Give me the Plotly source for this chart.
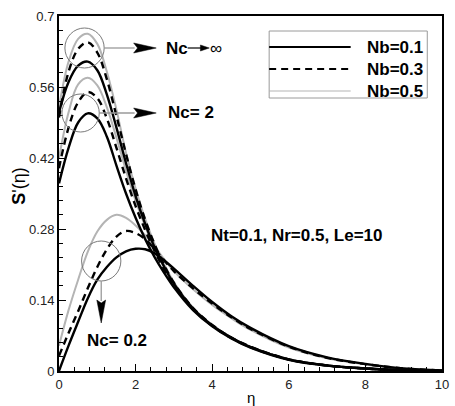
import plotly.graph_objects as go

# similarity coordinate
eta = [0, 0.25, 0.5, 0.75, 1, 1.25, 1.5, 1.75, 2, 2.25, 2.5, 2.75, 3,
       3.5, 4, 4.5, 5, 6, 7, 8, 9, 10]

# S'(eta) for Nc -> infinity
inf_nb01 = [0.51, 0.57, 0.602, 0.61, 0.593, 0.545, 0.48, 0.41, 0.345, 0.29, 0.243, 0.205, 0.172,
            0.123, 0.09, 0.066, 0.047, 0.023, 0.011, 0.005, 0.0015, 0.0]
inf_nb03 = [0.50, 0.59, 0.635, 0.648, 0.628, 0.575, 0.503, 0.428, 0.358, 0.298, 0.249, 0.208, 0.174,
            0.124, 0.091, 0.066, 0.048, 0.023, 0.011, 0.005, 0.0015, 0.0]
inf_nb05 = [0.52, 0.61, 0.655, 0.665, 0.645, 0.59, 0.515, 0.43, 0.36, 0.30, 0.25, 0.21, 0.175,
            0.125, 0.091, 0.066, 0.048, 0.023, 0.011, 0.005, 0.0015, 0.0]

# S'(eta) for Nc = 2
nc2_nb01 = [0.37, 0.44, 0.49, 0.508, 0.498, 0.462, 0.405, 0.35, 0.302, 0.26, 0.224, 0.193, 0.165,
            0.12, 0.088, 0.064, 0.046, 0.022, 0.0105, 0.0048, 0.0014, 0.0]
nc2_nb03 = [0.40, 0.48, 0.53, 0.55, 0.538, 0.498, 0.44, 0.38, 0.325, 0.278, 0.236, 0.2, 0.17,
            0.122, 0.089, 0.065, 0.047, 0.0225, 0.0108, 0.0049, 0.0015, 0.0]
nc2_nb05 = [0.42, 0.51, 0.565, 0.578, 0.563, 0.52, 0.46, 0.395, 0.336, 0.285, 0.24, 0.203, 0.171,
            0.123, 0.09, 0.065, 0.047, 0.0225, 0.011, 0.005, 0.0015, 0.0]

# S'(eta) for Nc = 0.2
nc02_nb01 = [0.0, 0.05, 0.097, 0.143, 0.18, 0.205, 0.224, 0.236, 0.241, 0.24, 0.232, 0.218, 0.202,
             0.168, 0.136, 0.108, 0.085, 0.049, 0.027, 0.014, 0.005, 0.001]
nc02_nb03 = [0.03, 0.075, 0.118, 0.163, 0.205, 0.24, 0.265, 0.276, 0.272, 0.26, 0.24, 0.218, 0.197,
             0.163, 0.133, 0.106, 0.083, 0.048, 0.026, 0.0135, 0.005, 0.001]
nc02_nb05 = [0.05, 0.12, 0.18, 0.235, 0.275, 0.298, 0.308, 0.302, 0.287, 0.268, 0.245, 0.22, 0.197,
             0.161, 0.13, 0.104, 0.081, 0.046, 0.025, 0.013, 0.0045, 0.001]

x_ticks = [0, 2, 4, 6, 8, 10]
y_ticks = [0, 0.14, 0.28, 0.42, 0.56, 0.7]
nb_labels = ["Nb=0.1", "Nb=0.3", "Nb=0.5"]

GRAY = "#b4b4b4"
styles = {
    "Nb=0.1": dict(color="black", width=2.4, dash="solid"),
    "Nb=0.3": dict(color="black", width=2.4, dash="7px,5px"),
    "Nb=0.5": dict(color=GRAY, width=2.0, dash="solid"),
}

groups = [
    {"Nb=0.1": nc02_nb01, "Nb=0.3": nc02_nb03, "Nb=0.5": nc02_nb05},
    {"Nb=0.1": nc2_nb01, "Nb=0.3": nc2_nb03, "Nb=0.5": nc2_nb05},
    {"Nb=0.1": inf_nb01, "Nb=0.3": inf_nb03, "Nb=0.5": inf_nb05},
]

fig = go.Figure()
for nb in ["Nb=0.5", "Nb=0.3", "Nb=0.1"]:
    for g in groups:
        fig.add_trace(go.Scatter(x=eta, y=g[nb], mode="lines", showlegend=False,
                                 line=dict(shape="spline", smoothing=1.0, **styles[nb])))

# page geometry (pixels)
WIDTH, HEIGHT = 455, 406
L, R, T, B = 59, 6, 16, 35
PW, PH = WIDTH - L - R, HEIGHT - T - B


def px(x):
    return (x - L) / PW


def py(y):
    return (HEIGHT - B - y) / PH


FONT = "Liberation Sans, Arial, sans-serif"
shapes = []
annotations = []

# legend box with sample lines
shapes.append(dict(type="rect", xref="paper", yref="paper", x0=px(273), x1=px(434),
                   y0=py(98), y1=py(31), line=dict(color="#9a9a9a", width=1), fillcolor="white"))
for i, nb in enumerate(nb_labels):
    yy = 47 + 22 * i
    st = styles[nb]
    shapes.append(dict(type="line", xref="paper", yref="paper", x0=px(273), x1=px(356),
                       y0=py(yy), y1=py(yy),
                       line=dict(color=st["color"], width=st["width"] - 0.4 if nb != "Nb=0.5" else 1.2,
                                 dash=st["dash"])))
    annotations.append(dict(xref="paper", yref="paper", x=px(432), y=py(yy), xanchor="right",
                            yanchor="middle", text="<b>%s</b>" % nb, showarrow=False,
                            font=dict(family=FONT, size=17, color="black")))

# circles marking each group of curves
CIRC = dict(color="#7a7a7a", width=1)
for cx, cy, r in [(85, 48, 20), (81, 113, 19), (102, 261, 20)]:
    shapes.append(dict(type="circle", xref="paper", yref="paper", x0=px(cx - r), x1=px(cx + r),
                       y0=py(cy + r), y1=py(cy - r), line=CIRC))


def tri(pts):
    return "M " + " L ".join("%f,%f" % (px(a), py(b)) for a, b in pts) + " Z"


# horizontal pointers to the Nc labels
for yy, x_start in [(48, 105), (113, 100)]:
    shapes.append(dict(type="line", xref="paper", yref="paper", x0=px(x_start), x1=px(136),
                       y0=py(yy), y1=py(yy), line=dict(color="#9a9a9a", width=1.3)))
    shapes.append(dict(type="path", xref="paper", yref="paper",
                       path=tri([(135, yy - 5), (158, yy), (135, yy + 5), (139, yy)]),
                       fillcolor="black", line=dict(color="black", width=0.5)))

# vertical pointer to Nc = 0.2
shapes.append(dict(type="line", xref="paper", yref="paper", x0=px(102), x1=px(102),
                   y0=py(281), y1=py(301), line=dict(color="#9a9a9a", width=1.3)))
shapes.append(dict(type="path", xref="paper", yref="paper",
                   path=tri([(97.5, 300), (102, 323), (106.5, 300), (102, 303)]),
                   fillcolor="black", line=dict(color="black", width=0.5)))

# small arrow inside "Nc -> infinity"
shapes.append(dict(type="line", xref="paper", yref="paper", x0=px(190), x1=px(206),
                   y0=py(48), y1=py(48), line=dict(color="black", width=1.2)))
shapes.append(dict(type="path", xref="paper", yref="paper",
                   path=tri([(203, 45), (212, 48), (203, 51)]),
                   fillcolor="black", line=dict(color="black", width=0.5)))

labels = [
    (166, 48, "<b>Nc</b>", "left"),
    (211, 49, "∞", "left"),
    (168, 113, "<b>Nc= 2</b>", "left"),
    (85, 340, "<b>Nc= 0.2</b>", "left"),
    (212, 235, "<b>Nt=0.1, Nr=0.5, Le=10</b>", "left"),
]
for x, y, t, anc in labels:
    annotations.append(dict(xref="paper", yref="paper", x=px(x), y=py(y), xanchor=anc,
                            yanchor="middle", text=t, showarrow=False,
                            font=dict(family=FONT, size=17, color="black")))

# axis titles
annotations.append(dict(xref="paper", yref="paper", x=px(18), y=py(186), text="<b>S</b>'(η)",
                        textangle=-90, showarrow=False, xanchor="center", yanchor="middle",
                        font=dict(family=FONT, size=18, color="black")))
annotations.append(dict(xref="paper", yref="paper", x=px(254), y=py(398), text="η",
                        showarrow=False, xanchor="center", yanchor="middle",
                        font=dict(family=FONT, size=15, color="black")))

axis_common = dict(showgrid=False, zeroline=False, showline=True, linecolor="black", linewidth=2,
                   mirror=True, ticks="inside", ticklen=7, tickwidth=1.2, tickcolor="black",
                   tickfont=dict(family=FONT, size=13, color="#222"))

fig.update_layout(
    width=WIDTH, height=HEIGHT,
    margin=dict(l=L, r=R, t=T, b=B),
    paper_bgcolor="white", plot_bgcolor="white",
    xaxis=dict(range=[0, 10], tickvals=x_ticks, ticktext=[str(v) for v in x_ticks],
               minor=dict(dtick=0.4, ticks="inside", ticklen=4, tickcolor="black", tickwidth=1),
               **axis_common),
    yaxis=dict(range=[0, 0.7], tickvals=y_ticks, ticktext=["0", "0.14", "0.28", "0.42", "0.56", "0.7"],
               minor=dict(dtick=0.028, ticks="inside", ticklen=4, tickcolor="black", tickwidth=1),
               **axis_common),
    shapes=shapes,
    annotations=annotations,
)

fig.write_html("out.html")
